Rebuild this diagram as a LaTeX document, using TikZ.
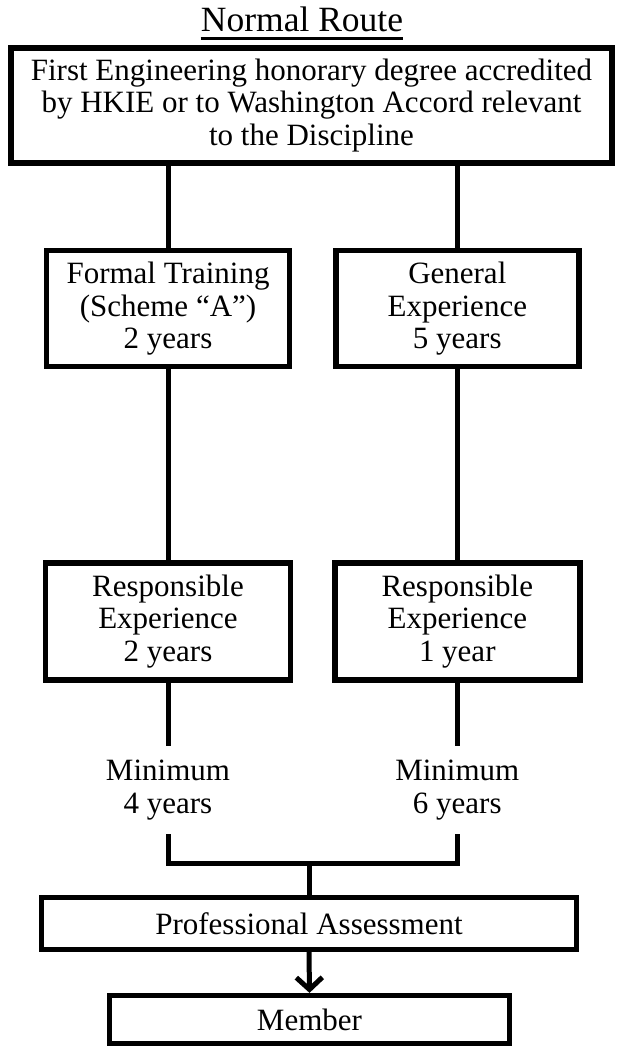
\documentclass[tikz,border=0pt]{standalone}
\usepackage{fontspec}
\setmainfont{Liberation Serif}
\usetikzlibrary{arrows.meta}
\newcommand{\bodyfnt}{\fontsize{31}{32.5}\selectfont}
\newcommand{\titlefnt}{\fontsize{35.5}{38}\selectfont}
\begin{document}
\begin{tikzpicture}[x=1pt,y=-1pt,
  box/.style={draw, line width=5.5pt, inner sep=0pt, align=center, font=\bodyfnt},
  conn/.style={line width=5pt},
  lbl/.style={inner xsep=0pt, inner ysep=14pt, align=center, font=\bodyfnt}]
\useasboundingbox[fill=white] (0,0) rectangle (619,1049);
\node[anchor=base, font=\titlefnt, inner sep=0pt] (title) at (302,32) {Normal Route};
\draw[line width=3pt] ([yshift=-7pt]title.base west) -- ([yshift=-7pt]title.base east);

\node[box, minimum width=601, minimum height=115] (top) at (311.5,105.5)
  {First Engineering honorary degree accredited\\by HKIE or to Washington Accord relevant\\to the Discipline};

\node[box, minimum width=243, minimum height=116] (formal) at (168,308.6)
  {Formal Training\\(Scheme ``A'')\\2 years};
\node[box, minimum width=243, minimum height=116] (general) at (457.3,308.6)
  {General\\Experience\\5 years};

\node[box, minimum width=245, minimum height=117] (resp1) at (168,621.3)
  {Responsible\\Experience\\2 years};
\node[box, minimum width=245, minimum height=117] (resp2) at (457.3,621.3)
  {Responsible\\Experience\\1 year};

\node[lbl] (min1) at (168,790) {Minimum\\4 years};
\node[lbl] (min2) at (457.3,790) {Minimum\\6 years};

\node[box, minimum width=535, minimum height=51.6] (pa) at (309,923.5)
  {Professional Assessment};
\node[box, minimum width=400, minimum height=48] (member) at (309.5,1019.6)
  {Member};

\coordinate (join) at (309,863);

\draw[conn] (formal.north |- top.south) -- (formal.north);
\draw[conn] (general.north |- top.south) -- (general.north);
\draw[conn] (formal.south) -- (resp1.north);
\draw[conn] (general.south) -- (resp2.north);
\draw[conn] (resp1.south) -- (min1.north);
\draw[conn] (resp2.south) -- (min2.north);
\draw[conn] (min1.south) |- (join) -| (min2.south);
\draw[conn] (join) -- (pa.north);
\draw[conn, -{Straight Barb[length=12pt, width=26pt]}] (pa.south) -- (member.north);
\end{tikzpicture}
\end{document}
